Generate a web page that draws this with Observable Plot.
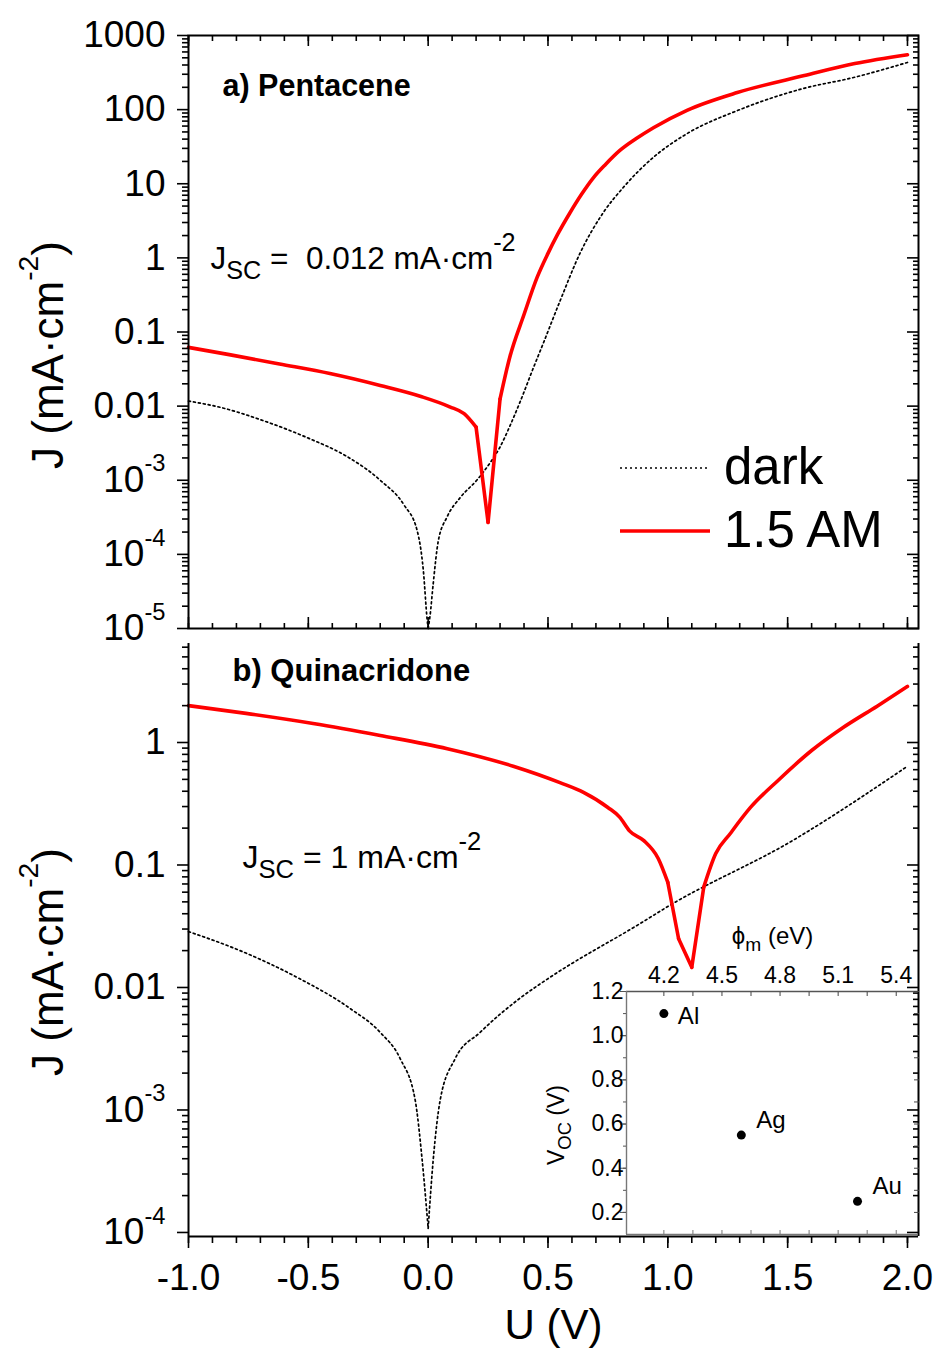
<!DOCTYPE html>
<html>
<head>
<meta charset="utf-8">
<script src="https://cdn.jsdelivr.net/npm/d3@7"></script>
<script src="https://cdn.jsdelivr.net/npm/@observablehq/plot@0.6"></script>
<style>
  html, body { margin: 0; padding: 0; background: #fff; }
  #fig { position: relative; width: 938px; height: 1349px; overflow: hidden;
         font-family: 'Liberation Sans', Arial, Helvetica, sans-serif; }
  .layer { position: absolute; }
</style>
</head>
<body>
<div id="fig">
  <div id="panelA" class="layer" style="left:0;top:0"></div>
  <div id="panelB" class="layer" style="left:0;top:640px"></div>
  <div id="inset" class="layer" style="left:520px;top:900px"></div>
  <svg id="legend" class="layer" style="left:600px;top:430px;overflow:visible" width="330" height="140"></svg>
</div>
<script>
// ---------- J–V data: (a) pentacene ----------
const pentaceneDarkU = [-1.0, -0.86, -0.69, -0.5, -0.34, -0.2, -0.1, -0.046, -0.02, -0.004, 0.0, 0.008, 0.021, 0.042, 0.079, 0.134, 0.205, 0.259, 0.301, 0.342, 0.384, 0.438, 0.48, 0.551, 0.635, 0.731, 0.814, 0.939, 1.081, 1.29, 1.566, 1.775, 2.0];
const pentaceneDarkJ = [0.0117, 0.0095, 0.0064, 0.0037, 0.0021, 0.001, 4.6e-4, 2.1e-4, 6e-5, 1.3e-5, 1e-5, 1.5e-5, 4e-5, 1.5e-4, 3.2e-4, 5.85e-4, 1.02e-3, 1.73e-3, 2.85e-3, 5.48e-3, 0.0115, 0.0322, 0.070, 0.266, 1.18, 4.09, 8.9, 22.6, 47.6, 97, 193, 271, 433];
const pentaceneLightU = [-1.0, -0.83, -0.62, -0.41, -0.2, -0.03, 0.09, 0.15, 0.2, 0.25, 0.30, 0.34, 0.40, 0.455, 0.50, 0.54, 0.59, 0.64, 0.69, 0.74, 0.8, 0.87, 0.94, 1.08, 1.29, 1.57, 1.78, 2.0];
const pentaceneLightJ = [0.062, 0.0495, 0.037, 0.0275, 0.019, 0.0135, 0.0098, 0.0079, 0.0052, 0.00027, 0.0125, 0.045, 0.172, 0.55, 1.15, 2.07, 3.97, 7.2, 12.1, 18.2, 28.1, 41, 57, 98, 170, 288, 418, 550];
// voltages where the measured curves have sharp corners
const pentaceneDarkCorners = [0.0];
const pentaceneLightCorners = [0.2, 0.25, 0.30];

// ---------- J–V data: (b) quinacridone ----------
const quinDarkU = [-1.0, -0.785, -0.547, -0.326, -0.2, -0.117, -0.054, -0.025, 0.0, 0.021, 0.05, 0.113, 0.217, 0.384, 0.5, 0.885, 1.0, 1.52, 2.0];
const quinDarkJ = [0.0286, 0.020, 0.0121, 0.00674, 0.0043, 0.00263, 0.0012, 3.9e-4, 1.08e-4, 3.9e-4, 0.0012, 0.00263, 0.0043, 0.0082, 0.0118, 0.0333, 0.0458, 0.158, 0.64];
const quinLightU = [-1.0, -0.76, -0.48, -0.2, 0.08, 0.355, 0.55, 0.65, 0.75, 0.80, 0.84, 0.90, 0.96, 1.0, 1.045, 1.10, 1.15, 1.2, 1.26, 1.345, 1.46, 1.6, 1.73, 1.875, 2.0];
const quinLightJ = [2.0, 1.73, 1.43, 1.14, 0.89, 0.64, 0.47, 0.39, 0.295, 0.245, 0.19, 0.158, 0.113, 0.072, 0.025, 0.0146, 0.066, 0.124, 0.18, 0.295, 0.49, 0.86, 1.32, 1.99, 2.87];
const quinDarkCorners = [0.0];
const quinLightCorners = [1.0, 1.045, 1.10, 1.15];

// ---------- inset: open-circuit voltage vs. electrode work function ----------
const metals = ["Al", "Ag", "Au"];
const workFunction = [4.2, 4.6, 5.2];
const openCircuitV = [1.10, 0.55, 0.25];

// ---------- axis ticks and labels ----------
const xMajor = [-1, -0.5, 0, 0.5, 1, 1.5, 2];
const xLabels = ["-1.0", "-0.5", "0.0", "0.5", "1.0", "1.5", "2.0"];
const aYTicks = [1e3, 1e2, 10, 1, 0.1, 0.01, 1e-3, 1e-4, 1e-5];
const aYLabels = ["1000", "100", "10", "1", "0.1", "0.01", "10^{-3}", "10^{-4}", "10^{-5}"];
const bYTicks = [1, 0.1, 0.01, 1e-3, 1e-4];
const bYLabels = ["1", "0.1", "0.01", "10^{-3}", "10^{-4}"];
const insetXTicks = [4.2, 4.5, 4.8, 5.1, 5.4];
const insetYTicks = [0.2, 0.4, 0.6, 0.8, 1.0, 1.2];
const legendLabels = ["dark", "1.5 AM"];

const FONT = "'Liberation Sans', Arial, Helvetica, sans-serif";
const xDomain = [-1, 2.046];
const aYDomain = [1e-5, 1000];
const bYDomain = [9.27e-5, 6.43];
const insetXDomain = [4.007, 5.515];
const insetYDomain = [0.1, 1.2];

// split a curve at its corner voltages so each piece can be drawn smooth
function pieces(u, j, corners) {
  const cuts = [-Infinity, ...corners, Infinity];
  const rows = [];
  for (let s = 0; s < cuts.length - 1; s++)
    u.forEach((v, i) => { if (v >= cuts[s] && v <= cuts[s + 1]) rows.push({u: v, j: j[i], piece: s}); });
  return rows;
}
const xMinor = d3.range(-10, 21).map(i => i / 10);
function logMinors(lo, hi) {
  const out = [];
  for (let e = Math.floor(Math.log10(lo)); e <= Math.ceil(Math.log10(hi)); e++)
    for (let m = 2; m <= 9; m++) {
      const v = m * Math.pow(10, e);
      if (v > lo && v < hi) out.push(v);
    }
  return out;
}
const lookup = (ticks, labels) => { const m = new Map(ticks.map((t, i) => [t, labels[i]])); return d => m.get(d) ?? ""; };

// tick marks only (negative size = pointing into the frame)
function ticks(axis, anchor, values, size, opts = {}) {
  const f = axis === "x" ? Plot.axisX : Plot.axisY;
  return f({anchor, ticks: values, tickSize: size, tickFormat: () => "", label: null, strokeWidth: 1.6, stroke: "#000", ...opts});
}
function tickLabels(axis, anchor, values, format, padding, fontSize) {
  const f = axis === "x" ? Plot.axisX : Plot.axisY;
  return f({anchor, ticks: values, tickSize: 0, tickPadding: padding, tickFormat: format, label: null, fontSize, fill: "#000"});
}
const darkStyle = {x: "u", y: "j", z: "piece", curve: "monotone-x", stroke: "#000", strokeWidth: 1.7, strokeDasharray: "2,3"};
const lightStyle = {x: "u", y: "j", z: "piece", curve: "monotone-x", stroke: "#ff0000", strokeWidth: 3.6, strokeLinejoin: "round"};
const svgStyle = {fontFamily: FONT, background: "transparent", overflow: "visible", color: "#000"};
const yTitle = "J (mA·cm^{-2})";

// ---------- panel (a) ----------
const panelA = Plot.plot({
  width: 938, height: 640,
  marginLeft: 188, marginRight: 20, marginTop: 35, marginBottom: 12,
  style: svgStyle,
  x: {domain: xDomain, label: null},
  y: {type: "log", domain: aYDomain, label: null},
  marks: [
    Plot.line(pieces(pentaceneDarkU, pentaceneDarkJ, pentaceneDarkCorners), darkStyle),
    Plot.line(pieces(pentaceneLightU, pentaceneLightJ, pentaceneLightCorners), lightStyle),
    Plot.frame({stroke: "#000", strokeWidth: 2}),
    ticks("y", "left", aYTicks, 11),
    ticks("y", "left", logMinors(...aYDomain), 6),
    ticks("y", "right", aYTicks, -12),
    ticks("y", "right", logMinors(...aYDomain), -6),
    ticks("x", "top", xMajor, -10),
    ticks("x", "top", xMinor, -5),
    ticks("x", "bottom", xMajor, -11),
    ticks("x", "bottom", xMinor, -5),
    tickLabels("y", "left", aYTicks, lookup(aYTicks, aYLabels), 23, 37),
    Plot.text([yTitle], {text: d => d, frameAnchor: "left", rotate: -90, textAnchor: "middle", lineAnchor: "bottom", dx: -126, dy: 23, fontSize: 44}),
    Plot.text(["a) Pentacene"], {text: d => d, frameAnchor: "top-left", textAnchor: "start", lineAnchor: "bottom", dx: 34, dy: 60, fontSize: 30.5, fontWeight: "bold"}),
    Plot.text(["J_{SC} =  0.012 mA·cm^{-2}"], {text: d => d, frameAnchor: "top-left", textAnchor: "start", lineAnchor: "bottom", dx: 22, dy: 233, fontSize: 31.5})
  ]
});

// ---------- panel (b) ----------
const panelB = Plot.plot({
  width: 938, height: 709,
  marginLeft: 188, marginRight: 20, marginTop: 3, marginBottom: 113,
  style: svgStyle,
  x: {domain: xDomain, label: null},
  y: {type: "log", domain: bYDomain, label: null},
  marks: [
    Plot.line(pieces(quinDarkU, quinDarkJ, quinDarkCorners), darkStyle),
    Plot.line(pieces(quinLightU, quinLightJ, quinLightCorners), lightStyle),
    Plot.ruleX([xDomain[0]], {stroke: "#000", strokeWidth: 2}),
    Plot.ruleX([xDomain[1]], {stroke: "#000", strokeWidth: 2}),
    Plot.ruleY([bYDomain[0]], {stroke: "#000", strokeWidth: 2}),
    ticks("y", "left", bYTicks, 11),
    ticks("y", "left", logMinors(...bYDomain), 6),
    ticks("y", "right", bYTicks, -12),
    ticks("y", "right", logMinors(...bYDomain), -6),
    ticks("x", "bottom", xMajor, 12),
    ticks("x", "bottom", xMinor, 7),
    tickLabels("y", "left", bYTicks, lookup(bYTicks, bYLabels), 23, 37),
    tickLabels("x", "bottom", xMajor, lookup(xMajor, xLabels), 27, 37),
    Plot.text(["U (V)"], {text: d => d, frameAnchor: "bottom", textAnchor: "middle", lineAnchor: "bottom", dy: 102, fontSize: 42}),
    Plot.text([yTitle], {text: d => d, frameAnchor: "left", rotate: -90, textAnchor: "middle", lineAnchor: "bottom", dx: -126, dy: 22, fontSize: 44}),
    Plot.text(["b) Quinacridone"], {text: d => d, frameAnchor: "top-left", textAnchor: "start", lineAnchor: "bottom", dx: 44, dy: 37, fontSize: 31, fontWeight: "bold"}),
    Plot.text(["J_{SC} = 1 mA·cm^{-2}"], {text: d => d, frameAnchor: "top-left", textAnchor: "start", lineAnchor: "bottom", dx: 54, dy: 224, fontSize: 32})
  ]
});

// ---------- inset ----------
const insetRows = metals.map((m, i) => ({metal: m, phi: workFunction[i], voc: openCircuitV[i]}));
const insetXMinor = d3.range(0, 9).map(i => 4.2 + i * 0.15);
const insetYAll = d3.range(2, 13).map(i => i / 10);
const inset = Plot.plot({
  width: 418, height: 340,
  marginLeft: 106, marginRight: 20, marginTop: 91, marginBottom: 6,
  style: svgStyle,
  x: {domain: insetXDomain, label: null},
  y: {domain: insetYDomain, label: null},
  marks: [
    Plot.ruleY([insetYDomain[1]], {stroke: "#555", strokeWidth: 1.4}),
    Plot.ruleY([insetYDomain[0]], {stroke: "#777", strokeWidth: 1.4}),
    Plot.ruleX([insetXDomain[0]], {stroke: "#777", strokeWidth: 1.4}),
    ticks("x", "top", insetXMinor, -4, {stroke: "#444", strokeWidth: 1}),
    ticks("x", "bottom", insetXMinor, -4, {stroke: "#777", strokeWidth: 1}),
    ticks("y", "left", insetYTicks, 6, {stroke: "#555", strokeWidth: 1}),
    ticks("y", "left", insetYAll, 3, {stroke: "#555", strokeWidth: 1}),
    ticks("y", "right", insetYAll, -5, {stroke: "#444", strokeWidth: 1}),
    tickLabels("x", "top", insetXTicks, d => d.toFixed(1), 9, 23),
    tickLabels("y", "left", insetYTicks, d => d.toFixed(1), 3, 23),
    Plot.dot(insetRows, {x: "phi", y: "voc", r: 4.5, fill: "#000", stroke: "none"}),
    Plot.text(insetRows.filter(d => d.metal === "Al"), {x: "phi", y: "voc", text: "metal", textAnchor: "start", dx: 14, dy: 3, fontSize: 24}),
    Plot.text(insetRows.filter(d => d.metal !== "Al"), {x: "phi", y: "voc", text: "metal", textAnchor: "start", dx: 15, dy: -15, fontSize: 24}),
    Plot.text(["ϕ_{m} (eV)"], {text: d => d, frameAnchor: "top", textAnchor: "middle", lineAnchor: "bottom", dy: -48, fontSize: 24}),
    Plot.text(["V_{OC} (V)"], {text: d => d, frameAnchor: "left", rotate: -90, textAnchor: "middle", lineAnchor: "bottom", dx: -63, dy: 12, fontSize: 23})
  ]
});

document.getElementById("panelA").append(panelA);
document.getElementById("panelB").append(panelB);
document.getElementById("inset").append(inset);

// turn ^{..} / _{..} markup into raised / lowered tspans
function richify(svg) {
  const NS = "http://www.w3.org/2000/svg";
  svg.querySelectorAll("text").forEach(el => {
    el.setAttributeNS("http://www.w3.org/XML/1998/namespace", "xml:space", "preserve");
    const s = el.textContent;
    if (!/[\^_]\{/.test(s)) return;
    const base = parseFloat(getComputedStyle(el).fontSize) || 16;
    const ratio = base >= 34 ? 0.64 : 0.8;
    const parts = [];
    const re = /([\^_])\{([^}]*)\}/g;
    let last = 0, m;
    while ((m = re.exec(s))) {
      if (m.index > last) parts.push({t: s.slice(last, m.index)});
      parts.push({t: m[2], k: m[1]});
      last = re.lastIndex;
    }
    if (last < s.length) parts.push({t: s.slice(last)});
    el.textContent = "";
    let shift = 0;
    for (const p of parts) {
      const ts = document.createElementNS(NS, "tspan");
      const target = p.k === "^" ? -0.56 * base : p.k === "_" ? 0.32 * base : 0;
      if (target !== shift) ts.setAttribute("dy", (target - shift).toFixed(2));
      shift = target;
      if (p.k) ts.setAttribute("font-size", (ratio * base).toFixed(2));
      ts.textContent = p.t;
      el.appendChild(ts);
    }
  });
}
[panelA, panelB, inset].forEach(richify);

// ---------- legend ----------
const legendStyles = [
  {stroke: "#000", width: 1.7, dash: "2,3", x2: 108},
  {stroke: "#ff0000", width: 3.6, dash: null, x2: 110}
];
const legend = d3.select("#legend");
legendLabels.forEach((label, i) => {
  const st = legendStyles[i];
  legend.append("line")
    .attr("x1", 20).attr("x2", st.x2)
    .attr("y1", 38 + i * 63).attr("y2", 38 + i * 63)
    .attr("stroke", st.stroke).attr("stroke-width", st.width)
    .attr("stroke-dasharray", st.dash);
  legend.append("text")
    .attr("x", 124).attr("y", 54 + i * 63)
    .attr("font-family", FONT).attr("font-size", 51).attr("fill", "#000")
    .text(label);
});
</script>
</body>
</html>
